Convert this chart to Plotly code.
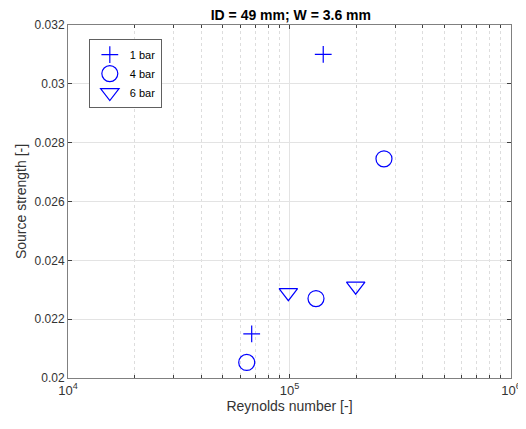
import plotly.graph_objects as go

# Data
re_1bar = [1.42e5, 6.75e4]
s_1bar = [0.0310, 0.0215]
re_4bar = [2.67e5, 1.317e5, 6.41e4]
s_4bar = [0.02745, 0.0227, 0.02053]
re_6bar = [9.88e4, 1.99e5]
s_6bar = [0.0229, 0.02312]

x_ticks = [1e4, 1e5, 1e6]
x_ticklabels = ["10<sup>4</sup>", "10<sup>5</sup>", "10<sup>6</sup>"]
y_ticks = [0.02, 0.022, 0.024, 0.026, 0.028, 0.03, 0.032]
y_ticklabels = ["0.02", "0.022", "0.024", "0.026", "0.028", "0.03", "0.032"]
minor_x = [m * 10 ** e for e in (4, 5) for m in range(2, 10)]

blue = "#0000FF"
fig = go.Figure()
fig.add_trace(go.Scatter(x=re_1bar, y=s_1bar, mode="markers", name="1 bar",
                         marker=dict(symbol="cross-thin-open", size=12, color=blue,
                                     line=dict(color=blue, width=1.2))))
fig.add_trace(go.Scatter(x=re_4bar, y=s_4bar, mode="markers", name="4 bar",
                         marker=dict(symbol="circle-open", size=16, color=blue,
                                     line=dict(color=blue, width=1.2))))
fig.add_trace(go.Scatter(x=re_6bar, y=s_6bar, mode="markers", name="6 bar",
                         marker=dict(symbol="triangle-down-open", size=16, color=blue,
                                     line=dict(color=blue, width=1.2))))

font_fam = "Liberation Sans, Arial"
axis_common = dict(showline=True, linecolor="#808080", linewidth=1, mirror="ticks",
                   ticks="inside", ticklen=4, tickcolor="#404040",
                   gridcolor="#E3E3E3", gridwidth=1, zeroline=False, automargin=False)

fig.update_xaxes(type="log", range=[4, 6], tickvals=x_ticks, ticktext=x_ticklabels,
                 tickfont=dict(family=font_fam, size=13, color="#333333"),
                 title=dict(text="Reynolds number [-]", standoff=4,
                            font=dict(family=font_fam, size=14, color="#333333")),
                 minor=dict(tickvals=minor_x, showgrid=True, griddash="dot",
                            gridcolor="#DDDDDD", ticks="inside", ticklen=3, tickcolor="#404040"),
                 **axis_common)
fig.update_yaxes(range=[0.02, 0.032], tickvals=y_ticks, ticktext=y_ticklabels,
                 tickfont=dict(family=font_fam, size=12, color="#333333"),
                 title=dict(text="Source strength [-]", standoff=4,
                            font=dict(family=font_fam, size=14, color="#333333")),
                 **axis_common)

# The page body adds an 8 px offset, so the figure is sized/margined to compensate
fig.update_layout(
    width=518, height=421,
    margin=dict(l=60, r=15, t=17, b=51, autoexpand=False),
    paper_bgcolor="white", plot_bgcolor="white",
    title=dict(text="<b>ID = 49 mm; W = 3.6 mm</b>", x=0.546, xanchor="center",
               y=0.995, yanchor="top",
               font=dict(family=font_fam, size=14, color="#000000")),
    legend=dict(x=0.047, y=0.96, xanchor="left", yanchor="top",
                bgcolor="white", bordercolor="#606060", borderwidth=1,
                font=dict(family=font_fam, size=11, color="#000000"),
                itemwidth=30, tracegroupgap=0),
    showlegend=True,
)

fig.write_html("out.html")
